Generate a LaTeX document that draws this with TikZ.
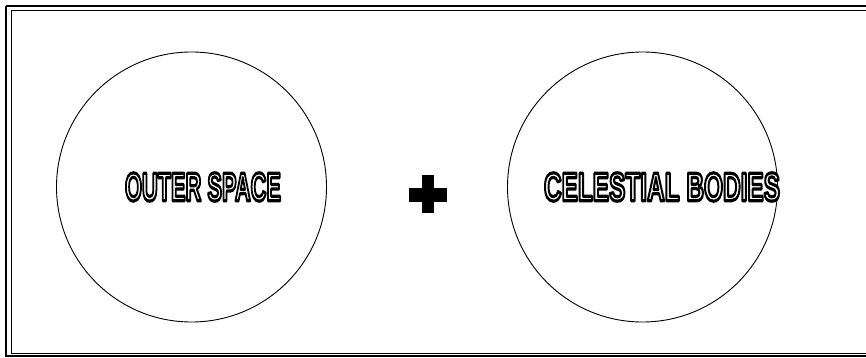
\documentclass[tikz,border=0pt]{standalone}
\usepackage{fontspec}
\usepackage{graphicx}
\newfontfamily\condfont{Liberation Sans}
\newcommand{\hollowtext}[3]{\resizebox{#2}{#3}{\special{pdf:literal direct 2 Tr 0.8 w 1 g 0 G 1 j}\condfont\bfseries #1\special{pdf:literal direct 0 Tr 0 g 0 G}}}
\begin{document}
\begin{tikzpicture}[x=1pt,y=-1pt,
  frameline/.style={line width=1.2pt,black},
  bubble/.style={line width=0.9pt,black},
  label/.style={inner sep=0pt,anchor=center}]
\useasboundingbox (0,0) rectangle (866,358);
\fill[white] (0,0) rectangle (866,358);
\draw[frameline] (6,6) -- (870,6);
\draw[frameline] (6,6) -- (6,356) -- (870,356);
\draw[line width=0.8pt] (11,10) -- (870,10);
\draw[line width=0.8pt] (11,10) -- (11,353) -- (870,353);
\draw[bubble] (191.5,187) circle (135);
\draw[bubble] (642.5,187) circle (135);
\node[label] (outer) at (203,187) {\hollowtext{OUTER SPACE}{156pt}{28pt}};
\node[label] (celest) at (662,187) {\hollowtext{CELESTIAL BODIES}{236pt}{28pt}};
\node[fill=black,minimum width=12pt,minimum height=38pt,inner sep=0pt] (plusv) at (428,194) {};
\node[fill=black,minimum width=38pt,minimum height=14pt,inner sep=0pt] (plush) at (428,195) {};
\end{tikzpicture}
\end{document}
